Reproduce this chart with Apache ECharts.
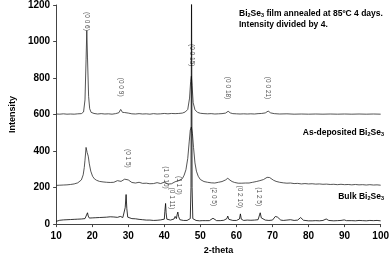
<!DOCTYPE html>
<html><head><meta charset="utf-8">
<script src="https://cdn.jsdelivr.net/npm/echarts@6/dist/echarts.min.js"></script>
<style>html,body{margin:0;padding:0;background:#fff}#c{width:392px;height:260px}</style>
</head><body><div id="c"></div>
<script>
// 2-theta / intensity pairs
var annealed = [[10,603],[11,602],[12,604],[13,602],[14,603],[15,602],[16,604],[17,605],[17.6,614],[18,680],[18.3,900],[18.5,1060],[18.7,910],[19,700],[19.3,632],[19.7,612],[20.5,606],[21.5,603],[22.5,605],[23.5,603],[24.5,604],[25.5,602],[26.5,605],[27.4,610],[27.9,628],[28.4,612],[29,611],[29.5,621],[30,608],[31,604],[32,603],[33,605],[34,603],[35,604],[36,602],[37,605],[38,603],[39,604],[40,606],[41,604],[42,606],[43,605],[44,606],[45,608],[45.8,614],[46.5,628],[47,690],[47.3,780],[47.5,810],[47.7,760],[48,665],[48.5,626],[49.2,612],[50,607],[51,605],[52,604],[53,605],[54,603],[55,604],[56,605],[57,608],[57.7,618],[58.3,609],[59,605],[60,604],[61,603],[62,604],[63,603],[64,604],[65,603],[66,605],[67,606],[68,609],[68.8,619],[69.5,609],[70.5,605],[72,603],[74,604],[76,602],[78,603],[80,602],[82,603],[84,602],[86,603],[88,602],[90,603],[92,602],[94,603],[96,602],[98,603],[100,602]];
var asDeposited = [[10,212],[10.5,215],[11,213],[11.5,216],[12,214],[12.5,217],[13,215],[13.5,218],[14,217],[14.5,220],[15,220],[15.5,223],[16,226],[16.5,232],[17,242],[17.5,270],[17.8,310],[18,350],[18.3,420],[18.6,392],[18.9,372],[19.2,330],[19.6,290],[20.1,262],[20.6,248],[21.2,240],[22,234],[22.5,236],[23,231],[23.5,233],[24,229],[24.5,231],[25,228],[25.5,230],[26,229],[26.5,234],[27,238],[27.5,236],[28,234],[28.5,238],[29,246],[29.5,253],[30,242],[30.5,232],[31,228],[31.5,230],[32,225],[32.5,228],[33,229],[33.5,224],[34,223],[34.5,226],[35,224],[35.5,222],[36,221],[36.5,224],[37,222],[37.5,226],[38,227],[38.5,223],[39,222],[39.5,226],[40,230],[40.5,223],[41,219],[41.5,222],[42,221],[42.5,226],[43,232],[43.5,236],[44,238],[44.5,241],[45,249],[45.5,268],[46,298],[46.5,360],[46.9,450],[47.2,515],[47.5,532],[47.8,495],[48.1,420],[48.5,335],[48.9,290],[49.4,262],[50,244],[50.5,236],[51,233],[51.5,230],[52,229],[52.5,227],[53,226],[53.5,228],[54,225],[54.5,227],[55,229],[55.5,231],[56,233],[56.5,237],[57,242],[57.6,251],[58.2,241],[58.8,233],[59.5,228],[60,226],[60.5,224],[61,222],[61.5,224],[62,223],[62.5,225],[63,222],[63.5,225],[64,226],[64.5,229],[65,230],[65.5,233],[66,235],[66.5,238],[67,240],[67.5,244],[68,248],[68.5,256],[68.8,261],[69.2,255],[69.7,248],[70.3,240],[71,234],[71.5,231],[72,229],[73,226],[74,224],[75,225],[76,222],[77,223],[78,220],[79,222],[80,220],[81,221],[82,219],[83,220],[84,218],[85,219],[86,217],[87,218],[88,216],[89,218],[90,216],[91,217],[92,215],[93,217],[94,215],[95,216],[96,214],[97,216],[98,214],[99,215],[100,213]];
var bulk = [[10,15],[10.5,19],[11,21],[11.5,20],[12,23],[12.5,22],[13,24],[13.5,23],[14,25],[14.5,24],[15,26],[15.5,25],[16,27],[16.5,26],[17,28],[17.5,27],[18,30],[18.4,38],[18.7,62],[18.9,44],[19.2,33],[19.6,31],[20,34],[20.5,32],[21,35],[21.5,33],[22,36],[22.5,34],[23,37],[23.5,36],[24,38],[24.5,36],[25,40],[25.5,37],[26,39],[26.5,36],[27,37],[27.5,35],[27.8,42],[28.1,34],[28.5,36],[28.9,40],[29.15,90],[29.4,162],[29.6,85],[29.85,38],[30.3,32],[31,30],[31.5,28],[32,29],[32.5,27],[33,26],[33.5,27],[34,24],[34.5,25],[35,22],[35.5,23],[36,22],[36.5,21],[37,20],[37.5,22],[38,21],[38.5,22],[39,23],[39.5,24],[40,27],[40.15,70],[40.35,113],[40.5,62],[40.7,27],[41.2,23],[41.7,22],[42.2,23],[42.7,28],[43,42],[43.15,48],[43.35,30],[43.55,52],[43.75,66],[43.95,42],[44.3,24],[44.8,21],[45.3,20],[45.8,21],[46.3,20],[46.8,22],[47.2,30],[47.4,200],[47.55,1320],[47.7,200],[47.9,30],[48.3,22],[48.8,20],[49.3,19],[49.8,18],[50.5,19],[51,18],[51.5,19],[52,20],[52.5,19],[53,21],[53.5,32],[53.9,22],[54.5,19],[55,18],[55.5,19],[56,20],[56.5,21],[57,22],[57.35,30],[57.6,44],[57.9,26],[58.3,21],[59,20],[59.5,19],[60,20],[60.5,21],[60.85,28],[61.1,56],[61.35,27],[61.7,21],[62,20],[62.5,21],[63,22],[63.5,20],[64,21],[64.5,20],[65,22],[65.5,22],[66,24],[66.3,32],[66.6,62],[66.9,34],[67.3,24],[68,22],[68.5,21],[69,20],[69.5,21],[70,22],[70.5,26],[70.8,42],[71.1,34],[71.4,38],[71.8,28],[72.3,22],[73,20],[73.5,21],[74,22],[74.5,21],[75,24],[75.5,21],[76,20],[76.5,22],[77,22],[77.5,25],[77.8,36],[78.1,26],[78.6,21],[79,20],[80,18],[80.5,19],[81,18],[82,19],[83,18],[84,20],[84.5,21],[84.9,28],[85.2,24],[85.6,20],[86,19],[87,18],[88,19],[89,20],[89.5,26],[89.9,23],[90.5,19],[91,18],[92,19],[93,18],[94,20],[95,19],[96,18],[97,20],[98,19],[99,20],[99.5,26],[100,18]];

// Miller-index peak labels
var peakNames = ['(0 0 6)','(0 0 9)','(0 0 15)','(0 0 18)','(0 0 21)','(0 1 5)','(1 0 10)','(0 1 11)','(1 1 0)','(2 0 5)','(0 2 10)','(1 2 5)'];
var peakX = [18.6, 27.8, 47.5, 57.6, 68.8, 30.0, 40.4, 42.0, 43.9, 53.8, 61.0, 66.2];
var peakY = [1110, 750, 925, 745, 745, 360, 255, 140, 212, 150, 150, 150];

// axis ticks
var xMin = 10, xMax = 100, xStep = 10;
var yMin = 0, yMax = 1200, yStep = 200;

var peakData = peakNames.map(function(n, i){ return {value:[peakX[i], peakY[i]], name:n}; });
var FONT = '"Liberation Sans", Arial, sans-serif';
var lineStyle = {color:'#2a2a2a', width:0.8};

var chart = echarts.init(document.getElementById('c'), null, {renderer:'canvas'});
chart.setOption({
  animation:false,
  backgroundColor:'#fff',
  grid:{left:41, right:8, top:5, bottom:32, containLabel:false},
  xAxis:{type:'value', min:xMin, max:xMax, interval:xStep,
    name:'2-theta', nameLocation:'middle', nameGap:20,
    nameTextStyle:{fontFamily:FONT, fontWeight:'bold', fontSize:9, color:'#000'},
    axisLine:{show:true, onZero:false, lineStyle:{color:'#444', width:1}},
    axisTick:{show:true, length:3, lineStyle:{color:'#444'}},
    axisLabel:{fontFamily:FONT, fontWeight:'bold', fontSize:10, color:'#000', margin:7,
      formatter:function(v){return String(v);}},
    splitLine:{show:false}},
  yAxis:{type:'value', min:yMin, max:yMax, interval:yStep,
    name:'Intensity', nameLocation:'middle', nameGap:33,
    nameTextStyle:{fontFamily:FONT, fontWeight:'bold', fontSize:9, color:'#000'},
    axisLine:{show:true, lineStyle:{color:'#444', width:1}},
    axisTick:{show:true, length:3, lineStyle:{color:'#444'}},
    axisLabel:{fontFamily:FONT, fontWeight:'bold', fontSize:10, color:'#000', margin:6,
      formatter:function(v){return String(v);}},
    splitLine:{show:false}},
  series:[
    {type:'line', data:annealed, symbol:'none', lineStyle:lineStyle, clip:true},
    {type:'line', data:asDeposited, symbol:'none', lineStyle:lineStyle, clip:true},
    {type:'line', data:bulk, symbol:'none', lineStyle:{color:'#000', width:0.8}, clip:true},
    {type:'scatter', data:peakData, symbolSize:0, silent:true,
      label:{show:true, position:'inside', rotate:-90, formatter:function(p){return p.name;},
        fontFamily:FONT, fontSize:6.5, color:'#222'}}
  ],
  graphic:[
    {type:'text', left:239, top:8, style:{
      text:'Bi{s|2}Se{s|3} film annealed at 85ºC 4 days.\nIntensity divided by 4.',
      font:'bold 8.5px '+FONT, fill:'#000', lineHeight:11,
      rich:{s:{font:'bold 5.5px '+FONT, fill:'#000', padding:[4,0,0,0]}}}},
    {type:'text', right:8, top:128, style:{
      text:'As-deposited Bi{s|2}Se{s|3}',
      font:'bold 8.5px '+FONT, fill:'#000',
      rich:{s:{font:'bold 5.5px '+FONT, fill:'#000', padding:[4,0,0,0]}}}},
    {type:'text', right:8, top:192, style:{
      text:'Bulk Bi{s|2}Se{s|3}',
      font:'bold 8.5px '+FONT, fill:'#000',
      rich:{s:{font:'bold 5.5px '+FONT, fill:'#000', padding:[4,0,0,0]}}}}
  ]
});
</script></body></html>
